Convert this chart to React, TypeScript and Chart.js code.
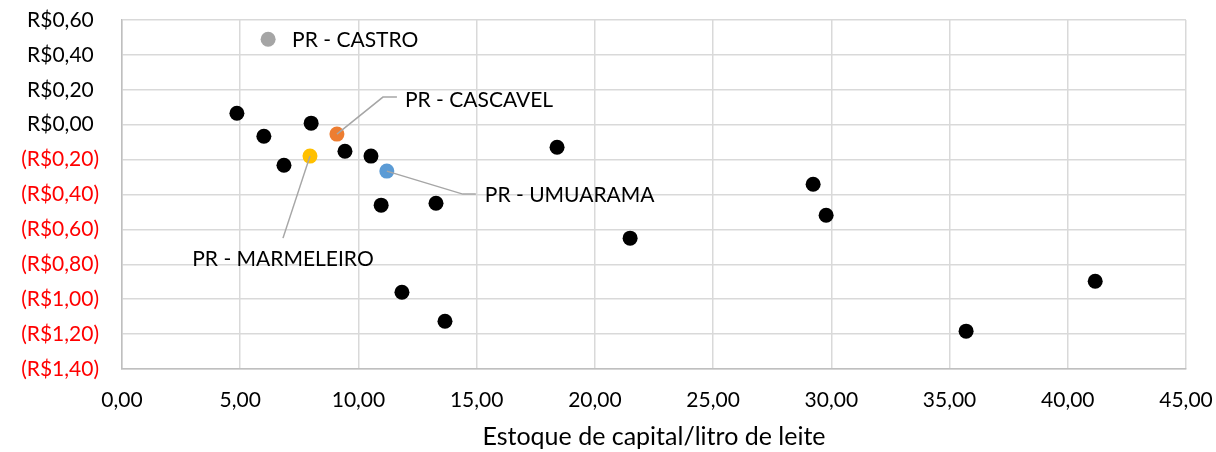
import React, { useEffect, useRef } from "react";
import { Chart, registerables } from "chart.js";

Chart.register(...registerables);

// Regular points (black)
const xValues = [4.86, 6.0, 6.85, 8.0, 9.43, 10.53, 10.96, 13.28, 11.84, 13.66, 18.4, 21.49, 29.23, 29.78, 41.16, 35.7];
const yValues = [0.066, -0.066, -0.232, 0.009, -0.152, -0.18, -0.461, -0.45, -0.96, -1.126, -0.129, -0.65, -0.341, -0.519, -0.897, -1.183];

// Highlighted municipalities
const highlightNames = ["PR - CASTRO", "PR - CASCAVEL", "PR - UMUARAMA", "PR - MARMELEIRO"];
const highlightX = [6.18, 9.09, 11.2, 7.95];
const highlightY = [0.49, -0.054, -0.266, -0.18];
const highlightColors = ["#a5a5a5", "#ed7d31", "#5b9bd5", "#ffc000"];

const xTitle = "Estoque de capital/litro de leite";
const xMin = 0, xMax = 45, xStep = 5;
const yMin = -1.4, yMax = 0.6, yStep = 0.2;

const FONT = "Lato, 'Open Sans', sans-serif";

const fmtX = (v: number) => v.toFixed(2).replace(".", ",");
const fmtY = (v: number) => {
  const s = Math.abs(v).toFixed(2).replace(".", ",");
  return v < -1e-9 ? `(R$${s})` : `R$${s}\u2009\u2009`;
};

const labelPlugin = {
  id: "pointLabels",
  afterDatasetsDraw(chart: any) {
    const ctx = chart.ctx;
    ctx.save();
    ctx.font = `21px ${FONT}`;
    ctx.fillStyle = "#000";
    ctx.strokeStyle = "#a6a6a6";
    ctx.lineWidth = 1.5;
    ctx.textBaseline = "middle";
    const pos = (i: number) => {
      const el = chart.getDatasetMeta(i + 1).data[0];
      return { x: el.x, y: el.y };
    };
    // CASTRO
    let p = pos(0);
    ctx.textAlign = "left";
    ctx.fillText(highlightNames[0], p.x + 24, p.y + 1);
    // CASCAVEL
    p = pos(1);
    ctx.beginPath();
    ctx.moveTo(p.x, p.y);
    ctx.lineTo(p.x + 46, p.y - 37);
    ctx.lineTo(p.x + 60, p.y - 37);
    ctx.stroke();
    ctx.fillText(highlightNames[1], p.x + 68, p.y - 34);
    // UMUARAMA
    p = pos(2);
    ctx.beginPath();
    ctx.moveTo(p.x, p.y);
    ctx.lineTo(p.x + 76, p.y + 23);
    ctx.lineTo(p.x + 89, p.y + 23);
    ctx.stroke();
    ctx.fillText(highlightNames[2], p.x + 98, p.y + 24);
    // MARMELEIRO
    p = pos(3);
    ctx.beginPath();
    ctx.moveTo(p.x, p.y);
    ctx.lineTo(p.x - 27, p.y + 82);
    ctx.stroke();
    ctx.textAlign = "center";
    ctx.fillText(highlightNames[3], p.x - 27, p.y + 103);
    ctx.restore();
  },
};

export default function App() {
  const ref = useRef<HTMLCanvasElement>(null);
  useEffect(() => {
    document.body.style.margin = "0";
    const datasets: any[] = [
      {
        label: "Municípios",
        data: xValues.map((x, i) => ({ x, y: yValues[i] })),
        backgroundColor: "#000",
        borderWidth: 0,
        pointRadius: 7.5,
      },
      ...highlightNames.map((n, i) => ({
        label: n,
        data: [{ x: highlightX[i], y: highlightY[i] }],
        backgroundColor: highlightColors[i],
        borderWidth: 0,
        pointRadius: 7.5,
      })),
    ];
    const chart = new Chart(ref.current!, {
      type: "scatter",
      data: { datasets },
      plugins: [labelPlugin],
      options: {
        animation: false,
        responsive: false,
        layout: { padding: { top: 20, right: 30, left: 0, bottom: 0 } },
        plugins: { legend: { display: false }, tooltip: { enabled: false } },
        scales: {
          x: {
            type: "linear",
            min: xMin,
            max: xMax,
            ticks: {
              stepSize: xStep,
              callback: (v: any) => fmtX(Number(v)),
              color: "#000",
              font: { family: FONT, size: 21 },
              padding: 19,
              maxRotation: 0,
            },
            grid: { color: "#d9d9d9", lineWidth: 1.5, drawTicks: false },
            border: { color: "#bfbfbf", width: 1.5 },
            title: {
              display: true,
              text: xTitle,
              color: "#000",
              font: { family: FONT, size: 25 },
              padding: { top: 0, bottom: 0 },
            },
            afterFit: (s: any) => {
              s.height = 83;
              s.paddingLeft = 0;
              s.paddingRight = 0;
            },
          },
          y: {
            type: "linear",
            min: yMin,
            max: yMax,
            ticks: {
              stepSize: yStep,
              callback: (v: any) => fmtY(Number(v)),
              color: (c: any) => (c.tick && c.tick.value < -1e-9 ? "#ff0000" : "#000"),
              font: { family: FONT, size: 21 },
              padding: 23,
            },
            grid: { color: "#d9d9d9", lineWidth: 1.5, drawTicks: false },
            border: { color: "#bfbfbf", width: 1.5 },
            afterFit: (s: any) => {
              s.width = 122;
              s.paddingTop = 0;
              s.paddingBottom = 0;
            },
          },
        },
      },
    });
    return () => chart.destroy();
  }, []);
  return <canvas ref={ref} width={1216} height={452} style={{ display: "block" }} />;
}
